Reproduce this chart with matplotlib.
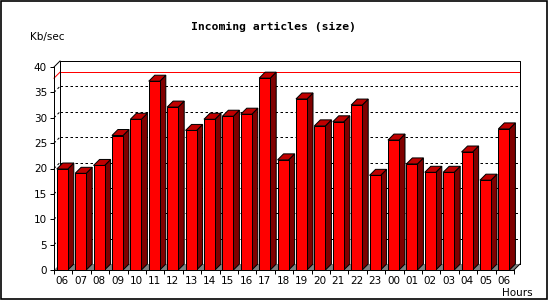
import matplotlib
matplotlib.use('Agg')
import matplotlib.pyplot as plt
from matplotlib.patches import Polygon, Rectangle

# Data
hours = ['06', '07', '08', '09', '10', '11', '12', '13', '14', '15', '16', '17', '18',
         '19', '20', '21', '22', '23', '00', '01', '02', '03', '04', '05', '06']
kbsec = [19.9, 19.05, 20.6, 26.5, 29.7, 37.2, 32.1, 27.5, 29.7, 30.3, 30.7, 37.8, 21.7,
         33.7, 28.4, 29.2, 32.5, 18.65, 25.6, 20.9, 19.25, 19.25, 23.25, 17.7, 27.8]

n = len(hours)
ymax = 40
dx = 6 / 18.4     # depth in slot units
dy = 6 / 5.075    # depth in value units
lw = 0.72

fig = plt.figure(figsize=(5.5, 3), dpi=100)
fig.patch.set_facecolor('white')
ax = fig.add_axes([54 / 550, 30 / 300, 460 / 550, 203 / 300])
ax.set_xlim(0, n)
ax.set_ylim(0, ymax)
ax.set_facecolor('none')
for s in ['top', 'right']:
    ax.spines[s].set_visible(False)
for s in ['left', 'bottom']:
    ax.spines[s].set_linewidth(lw)
    ax.spines[s].set_zorder(10)

# floor
ax.add_patch(Polygon([(0, 0), (dx, dy), (n + dx, dy), (n, 0)], closed=True,
                     facecolor='#808080', edgecolor='none', zorder=1, clip_on=False))

# grid on back wall
for v in range(5, ymax, 5):
    ax.plot([dx, n + dx], [v + dy, v + dy], color='black', lw=lw,
            linestyle=(0, (2.5, 2.5)), zorder=2, clip_on=False)
    ax.plot([0, dx], [v, v + dy], color='black', lw=lw,
            linestyle=(0, (2.5, 2.5)), zorder=2, clip_on=False)

# max line
vmax = max(kbsec)
ax.plot([dx, n + dx], [vmax + dy, vmax + dy], color='red', lw=lw, zorder=2, clip_on=False)
ax.plot([0, dx], [vmax, vmax + dy], color='red', lw=lw, zorder=2, clip_on=False)

# back wall outline
ax.plot([dx, dx, n + dx, n + dx], [dy, ymax + dy, ymax + dy, dy],
        color='black', lw=lw, zorder=2, clip_on=False)
ax.plot([0, dx], [ymax, ymax + dy], color='black', lw=lw, zorder=2, clip_on=False)
ax.plot([n, n + dx], [0, dy], color='black', lw=lw, zorder=2, clip_on=False)

# 3D bars
for i, v in enumerate(kbsec):
    x0 = i + 0.15
    x1 = i + 0.75
    z = 3 + i
    ax.add_patch(Polygon([(x1, 0), (x1 + dx, dy), (x1 + dx, v + dy), (x1, v)], closed=True,
                         facecolor='#800000', edgecolor='black', lw=lw, zorder=z, clip_on=False))
    ax.add_patch(Polygon([(x0, v), (x0 + dx, v + dy), (x1 + dx, v + dy), (x1, v)], closed=True,
                         facecolor='#C00000', edgecolor='black', lw=lw, zorder=z, clip_on=False))
    ax.add_patch(Rectangle((x0, 0), x1 - x0, v, facecolor='#FF0000',
                           edgecolor='black', lw=lw, zorder=z, clip_on=False))

# ticks
ax.set_yticks(range(0, ymax + 1, 5))
ax.tick_params(axis='y', direction='out', length=3, width=lw, pad=2, labelsize=7.5)
ax.set_xticks(range(0, n + 1))
ax.set_xticklabels([])
ax.tick_params(axis='x', which='major', direction='out', length=3, width=lw)
ax.set_xticks([i + 0.45 for i in range(n)], minor=True)
ax.set_xticklabels(hours, minor=True)
ax.tick_params(axis='x', which='minor', length=0, pad=4, labelsize=7.5)

fig.text(273.5 / 550, 1 - 27 / 300, 'Incoming articles (size)', ha='center', va='center',
         family='DejaVu Sans Mono', weight='bold', fontsize=8.2)
fig.text(30 / 550, 1 - 37 / 300, 'Kb/sec', ha='left', va='center', fontsize=7.5)
fig.text(533 / 550, 1 - 292.5 / 300, 'Hours', ha='right', va='center', fontsize=7.5)

fig.add_artist(Rectangle((0.5 / 550, 1.5 / 300), 546.5 / 550, 297.5 / 300,
                         transform=fig.transFigure, fill=False, edgecolor='black', lw=1.2))

fig.savefig('out.png', dpi=100)
